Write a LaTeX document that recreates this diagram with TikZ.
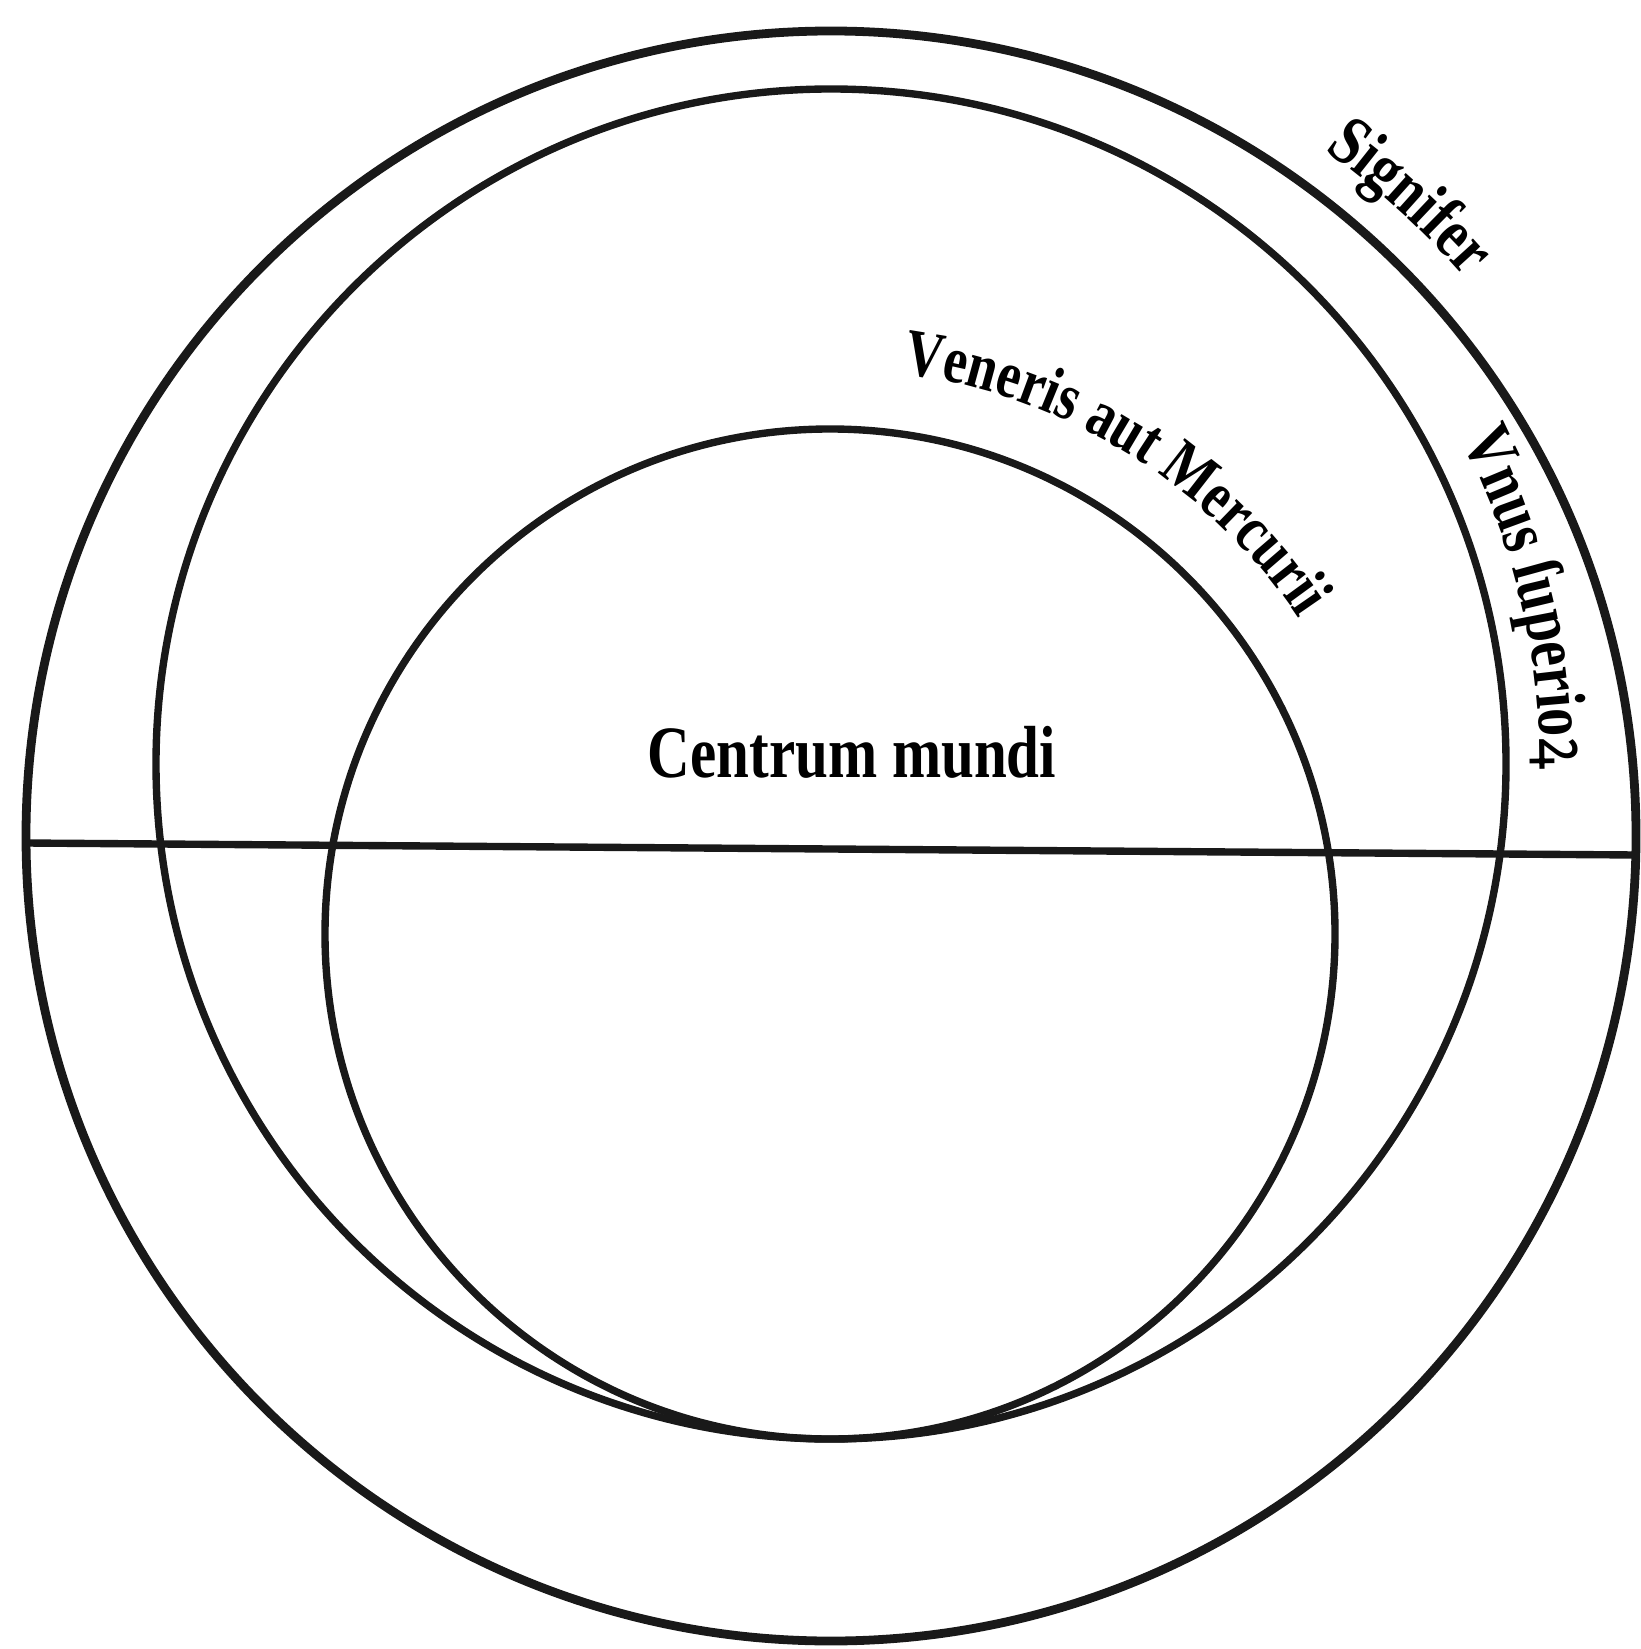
\documentclass[tikz,border=0pt]{standalone}
\usepackage{fontspec}
\setmainfont{Liberation Serif}
\newfontfamily\woodtype{Liberation Serif}[FakeStretch=0.8]
\newfontfamily\rumtype{Noto Sans}[FakeStretch=0.8]
\usetikzlibrary{decorations.text}

\begin{document}
\begin{tikzpicture}[
  orbit/.style={draw=black!90, line width=2.1pt},
  ringtext/.style={decorate, decoration={text along path, text align=center, text={#1}}}
]
  \useasboundingbox (0,0) rectangle (16.40,-16.49);

  % centres of the three circles
  \coordinate (sun) at (8.31,-8.36);
  \coordinate (mid) at (8.31,-7.64);
  \coordinate (earth) at (8.30,-9.34);

  \draw[orbit, line width=2.5pt] (sun) circle[radius=8.05];
  \draw[orbit] (mid) circle[radius=6.75];
  \draw[orbit] (earth) circle[radius=5.05];

  \coordinate (west) at (0.26,-8.43);
  \coordinate (east) at (16.36,-8.55);
  \draw[orbit] (west) -- (east);

  \node (centrum) at (8.52,-7.52) {\woodtype\bfseries\fontsize{21}{21}\selectfont Centrum mundi};

  \path[ringtext={|\woodtype\bfseries\fontsize{20}{20}\selectfont|Signifer}]
    ([shift={(54.4:8.45)}]sun) arc[start angle=54.4, end angle=41.2, radius=8.45];
  \path[ringtext={|\woodtype\bfseries\fontsize{19}{19}\selectfont|Veneris aut Mercurii}]
    ([shift={(83:5.65)}]earth) arc[start angle=83, end angle=33.5, radius=5.65];
  \path[ringtext={|\woodtype\bfseries\fontsize{20}{20}\selectfont|Vnus ſuperio|\rumtype\bfseries\fontsize{20}{20}\selectfont|ꝝ}]
    ([shift={(26.2:7.09)}]mid) arc[start angle=26.2, end angle=0.5, radius=7.09];
\end{tikzpicture}
\end{document}
